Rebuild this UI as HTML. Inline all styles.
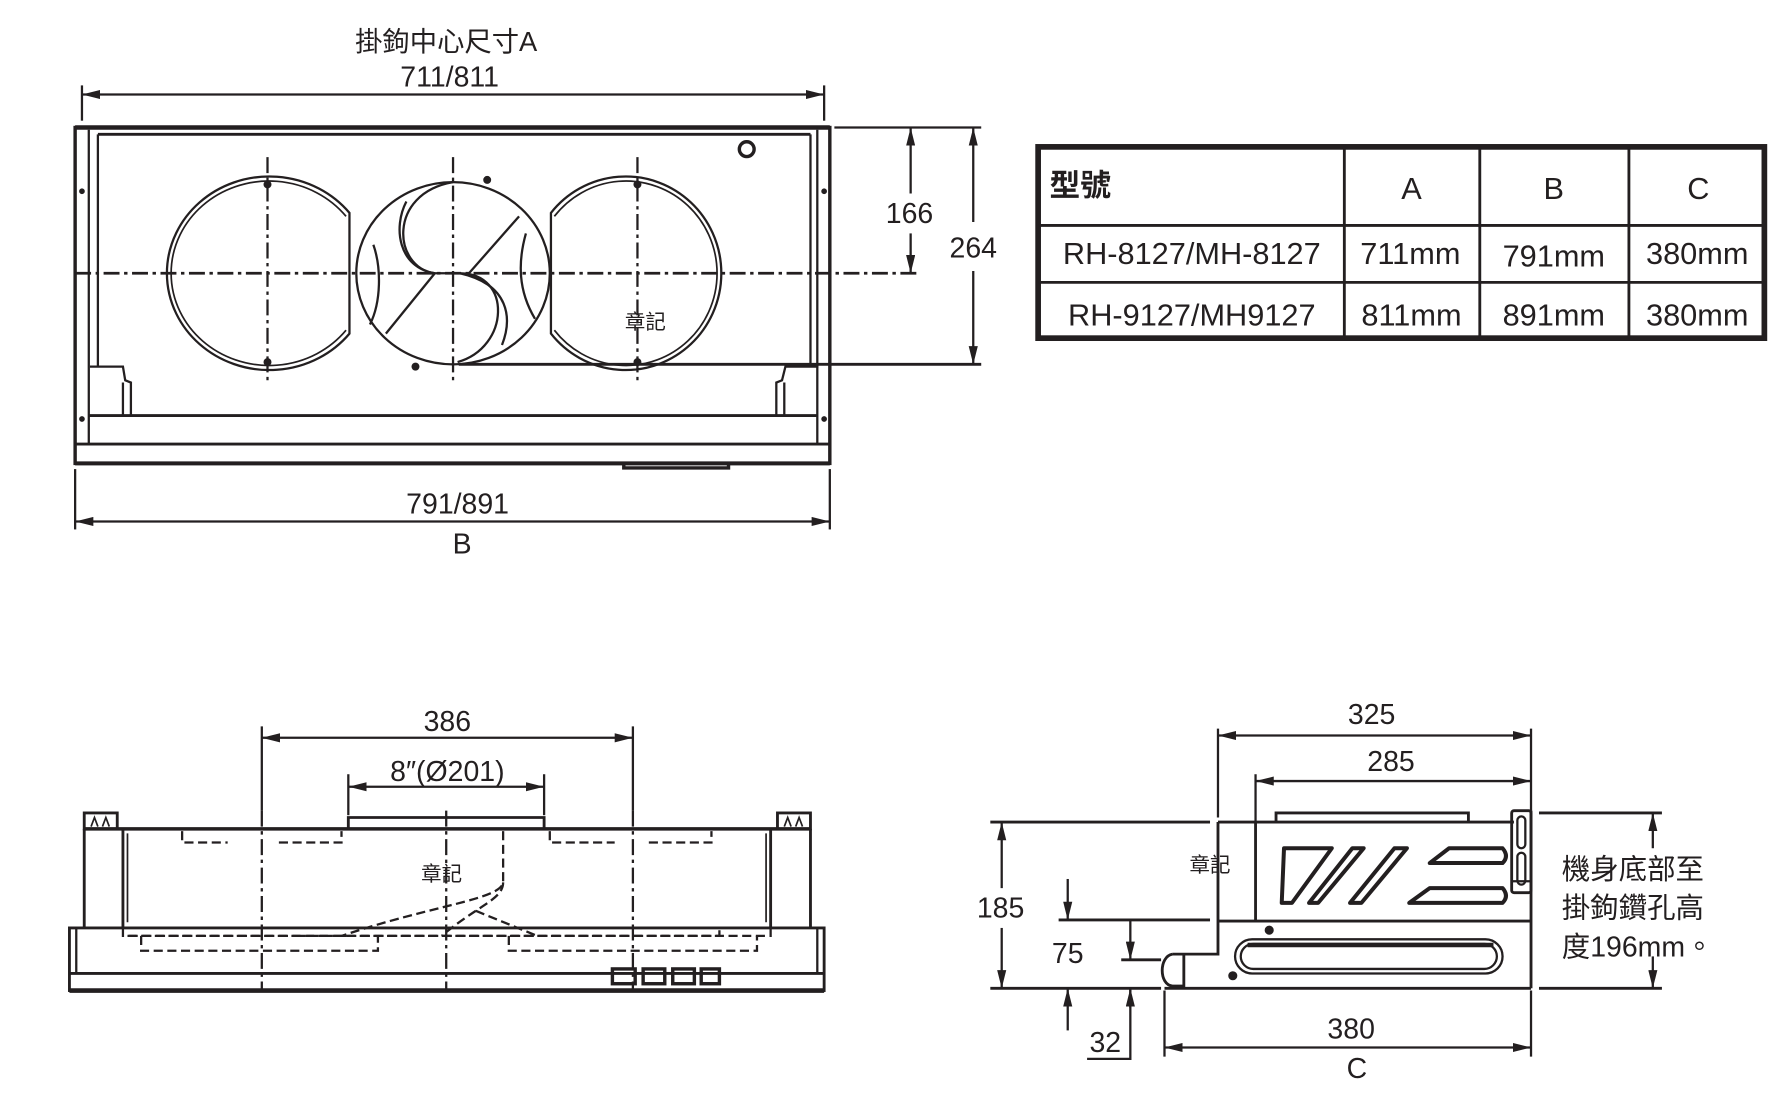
<!DOCTYPE html>
<html><head><meta charset="utf-8"><style>
html,body{margin:0;padding:0;background:#fff;}
svg{display:block;}
text{font-family:"Liberation Sans","Noto Sans CJK TC",sans-serif;fill:#231f20;}
</style></head><body>
<svg width="1786" height="1101" viewBox="0 0 1569 967" preserveAspectRatio="none" xmlns="http://www.w3.org/2000/svg">
<defs>
<marker id="ae" viewBox="0 0 16 8" refX="16" refY="4" markerWidth="16" markerHeight="8" markerUnits="userSpaceOnUse" orient="auto"><path d="M0,0 L16,4 L0,8 Z" fill="#231f20"/></marker>
<marker id="as" viewBox="0 0 16 8" refX="0" refY="4" markerWidth="16" markerHeight="8" markerUnits="userSpaceOnUse" orient="auto"><path d="M16,0 L0,4 L16,8 Z" fill="#231f20"/></marker>
</defs>
<g stroke="#231f20" fill="none" stroke-width="2">

<!-- ===== TOP VIEW ===== -->
<line x1="72" y1="75" x2="72" y2="106"/><line x1="724" y1="75" x2="724" y2="106"/>
<line x1="72" y1="83" x2="724" y2="83" marker-start="url(#as)" marker-end="url(#ae)"/>
<rect x="66" y="112" width="663" height="295" stroke-width="3"/>
<line x1="66" y1="112" x2="729" y2="112" stroke-width="4"/>
<line x1="86" y1="118" x2="712" y2="118" stroke-width="2.5"/>
<line x1="78" y1="114" x2="78" y2="390"/><line x1="86" y1="118" x2="86" y2="322"/>
<line x1="712" y1="118" x2="712" y2="322"/><line x1="718" y1="114" x2="718" y2="390"/>
<line x1="78" y1="365" x2="718" y2="365" stroke-width="2.5"/>
<line x1="66" y1="390" x2="729" y2="390" stroke-width="2.5"/>
<line x1="66" y1="407" x2="729" y2="407" stroke-width="3.5"/>
<path d="M79,322 L108,322 L110,334 L115,336 L115,365 M108,336 L108,365"/>
<path d="M719,322 L690,322 L687,334 L682,336 L682,365 M689,336 L689,365"/>
<circle cx="72" cy="168" r="1.5" fill="#231f20"/><circle cx="72" cy="368" r="1.5" fill="#231f20"/>
<circle cx="724" cy="168" r="1.5" fill="#231f20"/><circle cx="724" cy="368" r="1.5" fill="#231f20"/>
<circle cx="656" cy="131" r="6.5" stroke-width="3"/>
<path d="M307,187 A90,85 0 1 0 307,293 Z" stroke-width="2"/>
<path d="M304,190 A86,81 0 1 0 304,290" stroke-width="1.5"/>
<path d="M484,187 L484,293 A84,85 0 1 0 484,187 Z" stroke-width="2"/>
<path d="M487,190 A80,81 0 1 1 487,290" stroke-width="1.5"/>
<ellipse cx="398" cy="240" rx="85" ry="80" stroke-width="2"/>
<path d="M398,160 C340,170 345,235 382,240 L395,240"/>
<path d="M357,177 C345,200 350,235 382,240"/>
<path d="M339,293 L382,240"/>
<path d="M328,215 C335,235 335,265 325,285"/>
<path d="M404,240 C450,240 448,305 402,318"/>
<path d="M441,303 C450,280 448,250 404,240"/>
<path d="M456,190 L412,240"/>
<path d="M462,205 C455,230 455,255 470,280"/>
<circle cx="235" cy="162" r="2.5" fill="#231f20"/><circle cx="235" cy="318" r="2.5" fill="#231f20"/>
<circle cx="560" cy="162" r="2.5" fill="#231f20"/><circle cx="560" cy="318" r="2.5" fill="#231f20"/>
<circle cx="428" cy="158" r="2.5" fill="#231f20"/><circle cx="365" cy="322" r="2.5" fill="#231f20"/>
<g stroke-dasharray="14,4,3,4" stroke-width="2">
<line x1="66" y1="240" x2="808" y2="240" stroke-width="2.5"/>
<line x1="235" y1="138" x2="235" y2="335"/>
<line x1="398" y1="138" x2="398" y2="335"/>
<line x1="560" y1="138" x2="560" y2="335"/>
</g>
<line x1="403" y1="320" x2="862" y2="320" stroke-width="2.5"/>
<line x1="733" y1="112" x2="862" y2="112" stroke-width="2"/>
<line x1="800" y1="112" x2="800" y2="170" marker-start="url(#as)"/>
<line x1="800" y1="205" x2="800" y2="240" marker-end="url(#ae)"/>
<line x1="855" y1="112" x2="855" y2="195" marker-start="url(#as)"/>
<line x1="855" y1="238" x2="855" y2="320" marker-end="url(#ae)"/>
<path d="M548,407 L548,411 L640,411 L640,407" stroke-width="3"/>
<line x1="66" y1="412" x2="66" y2="465"/><line x1="729" y1="412" x2="729" y2="465"/>
<line x1="66" y1="458" x2="729" y2="458" marker-start="url(#as)" marker-end="url(#ae)"/>

<!-- ===== TABLE ===== -->
<rect x="912" y="129" width="638" height="168" stroke-width="5"/>
<line x1="912" y1="198" x2="1550" y2="198" stroke-width="2.5"/>
<line x1="912" y1="248" x2="1550" y2="248" stroke-width="2.5"/>
<line x1="1181" y1="129" x2="1181" y2="297" stroke-width="2.5"/>
<line x1="1300" y1="129" x2="1300" y2="297" stroke-width="2.5"/>
<line x1="1431" y1="129" x2="1431" y2="297" stroke-width="2.5"/>

<!-- ===== FRONT VIEW ===== -->
<line x1="230" y1="638" x2="230" y2="712"/><line x1="556" y1="638" x2="556" y2="712"/>
<line x1="230" y1="648" x2="556" y2="648" marker-start="url(#as)" marker-end="url(#ae)"/>
<line x1="306" y1="680" x2="306" y2="716"/><line x1="478" y1="680" x2="478" y2="716"/>
<line x1="306" y1="691" x2="478" y2="691" marker-start="url(#as)" marker-end="url(#ae)"/>
<path d="M306,728 L306,718 L478,718 L478,728" stroke-width="2.5"/>
<line x1="74" y1="728" x2="712" y2="728" stroke-width="3"/>
<rect x="74" y="714" width="29" height="14" stroke-width="2.5"/>
<rect x="683" y="714" width="29" height="14" stroke-width="2.5"/>
<path d="M80,726 l3,-8 l3,8 M90,726 l3,-8 l3,8 M689,726 l3,-8 l3,8 M699,726 l3,-8 l3,8" stroke-width="1.5"/>
<path d="M74,728 L74,815 M108,728 L108,815 M677,728 L677,815 M712,728 L712,815" stroke-width="2.5"/>
<path d="M112,732 L112,810 M673,732 L673,810" stroke-width="1.5"/>
<rect x="61" y="815" width="663" height="55" stroke-width="2.5"/>
<line x1="61" y1="855" x2="724" y2="855" stroke-width="2.5"/>
<line x1="67" y1="815" x2="67" y2="855"/><line x1="718" y1="815" x2="718" y2="855"/>
<line x1="61" y1="870" x2="724" y2="870" stroke-width="4"/>
<rect x="538" y="851" width="20" height="13" stroke-width="3"/>
<rect x="565" y="851" width="19" height="13" stroke-width="3"/>
<rect x="591" y="851" width="19" height="13" stroke-width="3"/>
<rect x="616" y="851" width="16" height="13" stroke-width="3"/>
<g stroke-dasharray="8,4" stroke-width="2">
<path d="M160,730 L160,740 L200,740 M245,740 L300,740 L300,730"/>
<path d="M483,730 L483,740 L540,740 M570,740 L625,740 L625,730"/>
<path d="M108,815 L108,822 L632,822 L632,815 M260,822 L305,822"/>
<path d="M124,822 L124,835 L332,835 L332,822"/>
<path d="M447,822 L447,835 L665,835 L665,822"/>
<path d="M677,815 L677,822 L110,822"/>
<path d="M442,730 L442,775 C440,790 380,795 300,822"/>
<path d="M442,775 C442,790 420,795 388,822"/>
<path d="M418,800 L472,822"/>
</g>
<g stroke-dasharray="14,4,3,4" stroke-width="2">
<line x1="230" y1="712" x2="230" y2="870"/>
<line x1="556" y1="712" x2="556" y2="870"/>
<line x1="392" y1="712" x2="392" y2="870"/>
</g>

<!-- ===== SIDE VIEW ===== -->
<line x1="1070" y1="640" x2="1070" y2="718"/><line x1="1345" y1="640" x2="1345" y2="712"/>
<line x1="1103" y1="680" x2="1103" y2="722"/>
<line x1="1070" y1="646" x2="1345" y2="646" marker-start="url(#as)" marker-end="url(#ae)"/>
<line x1="1103" y1="686" x2="1345" y2="686" marker-start="url(#as)" marker-end="url(#ae)"/>
<path d="M1121,722 L1121,714 L1290,714 L1290,722" stroke-width="2.5"/>
<path d="M1070,722 L1330,722 M1070,722 L1070,838 L1030,838" stroke-width="2.5"/>
<line x1="1103" y1="722" x2="1103" y2="809" stroke-width="2.5"/>
<line x1="1070" y1="809" x2="1345" y2="809" stroke-width="2.5"/>
<line x1="1345" y1="712" x2="1345" y2="868" stroke-width="2.5"/>
<line x1="1023" y1="868" x2="1345" y2="868" stroke-width="2.5"/>
<path d="M1030,838 C1018,840 1018,865 1030,866 L1040,866 L1040,838" stroke-width="2.5"/>
<rect x="1328" y="712" width="17" height="72" rx="2" stroke-width="2.5"/>
<rect x="1333" y="717" width="7" height="28" rx="3.5" stroke-width="2"/>
<rect x="1333" y="749" width="7" height="28" rx="3.5" stroke-width="2"/>
<line x1="1328" y1="774" x2="1345" y2="774"/>
<g stroke-width="3.5" stroke-linejoin="round">
<path d="M1128,745 L1170,745 L1135,793 L1126,793 Z"/>
<path d="M1188,745 L1198,745 L1158,793 L1150,793 Z"/>
<path d="M1225,745 L1236,745 L1196,793 L1186,793 Z"/>
<path d="M1273,745 L1320,745 Q1326,752 1320,758 L1256,758 Z"/>
<path d="M1256,780 L1320,780 Q1326,787 1320,793 L1238,793 Z"/>
</g>
<rect x="1085" y="825" width="235" height="30" rx="15" stroke-width="2"/>
<rect x="1090" y="829" width="225" height="22" rx="11" stroke-width="2"/>
<line x1="1096" y1="830" x2="1312" y2="830" stroke-width="4"/>
<circle cx="1115" cy="817" r="3" fill="#231f20"/><circle cx="1083" cy="857" r="3" fill="#231f20"/>
<line x1="870" y1="722" x2="1063" y2="722" stroke-width="2.5"/>
<line x1="870" y1="868" x2="1020" y2="868" stroke-width="2.5"/>
<line x1="880" y1="722" x2="880" y2="780" marker-start="url(#as)"/>
<line x1="880" y1="815" x2="880" y2="868" marker-end="url(#ae)"/>
<line x1="930" y1="808" x2="1063" y2="808" stroke-width="2.5"/>
<line x1="938" y1="772" x2="938" y2="808" marker-end="url(#ae)"/>
<line x1="938" y1="905" x2="938" y2="868" marker-end="url(#ae)"/>
<line x1="985" y1="843" x2="1020" y2="843" stroke-width="2.5"/>
<line x1="993" y1="808" x2="993" y2="843" marker-end="url(#ae)"/>
<path d="M993,868 L993,930 L955,930" stroke-width="2"/>
<line x1="993" y1="868" x2="993" y2="885" marker-start="url(#as)"/>
<line x1="1023" y1="870" x2="1023" y2="928"/><line x1="1345" y1="870" x2="1345" y2="928"/>
<line x1="1023" y1="920" x2="1345" y2="920" marker-start="url(#as)" marker-end="url(#ae)"/>
<line x1="1352" y1="714" x2="1460" y2="714" stroke-width="2.5"/>
<line x1="1352" y1="868" x2="1460" y2="868" stroke-width="2.5"/>
<line x1="1452" y1="714" x2="1452" y2="745" marker-start="url(#as)"/>
<line x1="1452" y1="840" x2="1452" y2="868" marker-end="url(#ae)"/>
</g>

<!-- TEXT -->
<g font-size="25" text-anchor="middle">
<text x="392" y="45" font-size="24">掛鉤中心尺寸A</text>
<text x="395" y="76">711/811</text>
<text x="799" y="196">166</text>
<text x="855" y="226">264</text>
<text x="402" y="451">791/891</text>
<text x="406" y="486">B</text>
<text x="567" y="289" font-size="18">章記</text>
<text x="393" y="642">386</text>
<text x="393" y="686">8″(Ø201)</text>
<text x="388" y="774" font-size="18">章記</text>
<text x="1205" y="636">325</text>
<text x="1222" y="677">285</text>
<text x="1063" y="766" font-size="18">章記</text>
<text x="879" y="806">185</text>
<text x="938" y="846">75</text>
<text x="971" y="924">32</text>
<text x="1187" y="912">380</text>
<text x="1192" y="947">C</text>
</g>
<g font-size="25" text-anchor="start">
<text x="1372" y="772">機身底部至</text>
<text x="1372" y="806">掛鉤鑽孔高</text>
<text x="1372" y="840">度196mm。</text>
</g>
<g font-size="27">
<text x="922" y="172" font-weight="bold">型號</text>
<g text-anchor="middle">
<text x="1240" y="175">A</text><text x="1365" y="175">B</text><text x="1492" y="175">C</text>
<text x="1047" y="232">RH-8127/MH-8127</text>
<text x="1239" y="232">711mm</text><text x="1365" y="234">791mm</text><text x="1491" y="232">380mm</text>
<text x="1047" y="286">RH-9127/MH9127</text>
<text x="1240" y="286">811mm</text><text x="1365" y="286">891mm</text><text x="1491" y="286">380mm</text>
</g></g>
</svg>
</body></html>
